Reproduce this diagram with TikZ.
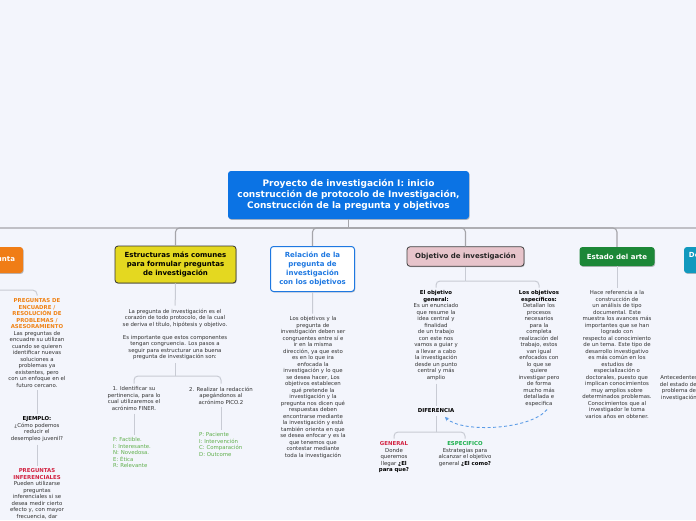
\documentclass[tikz,border=0pt]{standalone}
\usepackage{fontspec}
\setmainfont{DejaVu Sans}
\usetikzlibrary{arrows.meta,shadows}
\definecolor{bgc}{RGB}{243,245,252}
\definecolor{rootc}{RGB}{11,115,228}
\definecolor{orangec}{RGB}{240,125,22}
\definecolor{yellowc}{RGB}{228,216,32}
\definecolor{pinkc}{RGB}{231,196,203}
\definecolor{estc}{RGB}{28,135,55}
\definecolor{tealc}{RGB}{17,153,190}
\definecolor{relblue}{RGB}{30,120,225}
\definecolor{txtc}{RGB}{50,50,50}
\definecolor{orangetxt}{RGB}{240,130,20}
\definecolor{crim}{RGB}{210,35,65}
\definecolor{espg}{RGB}{25,175,75}
\definecolor{listg}{RGB}{95,175,75}
\definecolor{busc}{RGB}{165,165,170}
\definecolor{subc}{RGB}{200,203,212}
\definecolor{arrowc}{RGB}{90,155,230}
\newcommand\hO[1]{\textcolor{orangetxt}{\bfseries #1}}
\newcommand\hR[1]{\textcolor{crim}{\bfseries #1}}
\newcommand\hG[1]{\textcolor{espg}{\bfseries #1}}
\begin{document}
\begin{tikzpicture}[x=1pt,y=-1pt,
  box/.style={rounded corners=3pt, inner sep=0pt, align=center,
    font=\fontsize{7}{9}\selectfont\bfseries,
    drop shadow={shadow xshift=0.7pt,shadow yshift=-0.9pt,opacity=0.25,fill=black}},
  txt/.style={inner sep=3pt, align=center, font=\fontsize{5.4}{6.5}\selectfont, text=txtc, anchor=north},
  ltxt/.style={inner sep=3pt, align=left, font=\fontsize{5.4}{6.5}\selectfont, text=listg, anchor=north west},
  bus/.style={draw=busc, line width=1.1pt, rounded corners=4pt},
  sub/.style={draw=subc, line width=1pt, rounded corners=4pt},
  dasharrow/.style={draw=arrowc, line width=0.9pt, dash pattern=on 3pt off 2.5pt, -{Stealth[length=4pt,width=4pt]}}
]
\useasboundingbox (0,0) rectangle (696,520);
\clip (0,0) rectangle (696,520);
\fill[bgc] (0,0) rectangle (696,520);

% main nodes
\node[box, fill=rootc, text=white, minimum width=241pt, minimum height=48pt,
  font=\fontsize{9}{11}\selectfont\bfseries] (root) at (348.5,195)
  {Proyecto de investigación I: inicio\\construcción de protocolo de Investigación,\\Construcción de la pregunta y objetivos};
\node[box, fill=orangec, text=white, minimum width=88pt, minimum height=26pt] (orange) at (-21,260) {Tipos de pregunta};
\node[box, fill=yellowc, draw=black!80, line width=0.8pt, text=black, minimum width=121pt, minimum height=37pt] (yellow) at (175.5,264.5)
  {Estructuras más comunes\\para formular preguntas\\de investigación};
\node[box, fill=white, draw=relblue, line width=1pt, text=relblue, minimum width=84pt, minimum height=45pt] (rel) at (312.5,269)
  {Relación de la\\pregunta de\\investigación\\con los objetivos};
\node[box, fill=pinkc, draw=black!75, line width=0.8pt, text=black!85, minimum width=117pt, minimum height=19.5pt] (obj) at (465.5,256.5)
  {Objetivo de investigación};
\node[box, fill=estc, text=white, minimum width=75pt, minimum height=19pt] (est) at (617,256.5) {Estado del arte};
\node[box, fill=tealc, text=white, minimum width=74pt, minimum height=26pt] (dnode) at (721,260) {Delimitación del\\problema};

% bus
\coordinate (rb) at (348.5,228);
\draw[bus] (root) -- (rb);
\foreach \c in {orange,yellow,rel,obj,est,dnode} \draw[bus] (rb) -| (\c.north);

% left column
\node[txt] (l1) at (37,295.5) {\hO{PREGUNTAS DE}\\\hO{ENCUADRE /}\\\hO{RESOLUCIÓN DE}\\\hO{PROBLEMAS /}\\\hO{ASESORAMIENTO}\\Las preguntas de\\encuadre su utilizan\\cuando se quieren\\identificar nuevas\\soluciones a\\problemas ya\\existentes, pero\\con un enfoque en el\\futuro cercano.};
\node[txt] (l2) at (37,413.5) {\textbf{\color{black}EJEMPLO:}\\¿Cómo podemos\\reducir el\\desempleo juvenil?};
\node[txt] (l3) at (37,465.5) {\hR{PREGUNTAS}\\\hR{INFERENCIALES}\\Pueden utilizarse\\preguntas\\inferenciales si se\\desea medir cierto\\efecto y, con mayor\\frecuencia, dar};
\draw[sub] (orange.south) -- ++(0,17) -| (l1.north);
\draw[sub] (l1) -- (l2);
\draw[sub] (l2) -- (l3);

% yellow subtree
\node[txt] (y1) at (175,305.5) {La pregunta de investigación es el\\corazón de todo protocolo, de la cual\\se deriva el título, hipótesis y objetivo.\\[6.5pt]Es importante que estos componentes\\tengan congruencia. Los pasos a\\seguir para estructurar una buena\\pregunta de investigación son:};
\node[txt] (ya) at (134,383.5) {1. Identificar su\\pertinencia, para lo\\cual utilizaremos el\\acrónimo FINER.};
\node[txt] (yb) at (221,383.5) {2. Realizar la redacción\\apegándonos al\\acrónimo PICO.2};
\node[ltxt] (yag) at (110,434.5) {F: Factible.\\I: Interesante.\\N: Novedosa.\\E: Ética\\R: Relevante};
\node[ltxt] (ybg) at (196,429.5) {P: Paciente\\I: Intervención\\C: Comparación\\D: Outcome};
\draw[sub] (yellow) -- (y1);
\coordinate (ys) at (175,376);
\draw[sub] (y1) -- (ys);
\draw[sub] (ys) -| (ya.north);
\draw[sub] (ys) -| (yb.north);
\draw[sub] (ya.south) -- (ya.south |- yag.north);
\draw[sub] (yb.south) -- (yb.south |- ybg.north);

% relacion
\node[txt] (r1) at (313,313.5) {Los objetivos y la\\pregunta de\\investigación deben ser\\congruentes entre sí e\\ir en la misma\\dirección, ya que esto\\es en lo que ira\\enfocada la\\investigación y lo que\\se desea hacer, Los\\objetivos establecen\\qué pretende la\\investigación y la\\pregunta nos dicen qué\\respuestas deben\\encontrarse mediante\\la investigación y está\\también orienta en que\\se desea enfocar y es la\\que tenemos que\\contestar mediante\\toda la investigación};
\draw[sub] (rel) -- (r1);

% objetivo subtree
\node[txt] (og) at (436,287.5) {\textbf{\color{black}El objetivo}\\\textbf{\color{black}general:}\\Es un enunciado\\que resume la\\idea central y\\finalidad\\de un trabajo\\con este nos\\vamos a guiar y\\a llevar a cabo\\la investigación\\desde un punto\\central y más\\amplio};
\node[txt] (oe) at (539,287.5) {\textbf{\color{black}Los objetivos}\\\textbf{\color{black}específicos:}\\Detallan los\\procesos\\necesarios\\para la\\completa\\realización del\\trabajo, estos\\van igual\\enfocados con\\lo que se\\quiere\\investigar pero\\de forma\\mucho más\\detallada e\\especifica};
\coordinate (os) at (465.5,281);
\draw[sub] (obj) -- (os);
\draw[sub] (os) -| (og.north);
\draw[sub] (os) -| (oe.north);
\node[txt, text=black] (dif) at (436,405.5) {\textbf{DIFERENCIA}};
\draw[sub] (og) -- (dif);
\node[txt] (gen) at (394,438.5) {\hR{GENERAL}\\Donde\\queremos\\llegar \textbf{\color{black}¿El}\\\textbf{\color{black}para que?}};
\node[txt] (esp) at (465,438.5) {\hG{ESPECIFICO}\\Estrategias para\\alcanzar el objetivo\\general \textbf{\color{black}¿El como?}};
\coordinate (ds) at (436,432);
\draw[sub] (dif) -- (ds);
\draw[sub] (ds) -| (gen.north);
\draw[sub] (ds) -| (esp.north);
\draw[dasharrow] ([xshift=8pt]oe.south) .. controls (530,430) and (462,433) .. ([xshift=9pt,yshift=-1pt]dif.south);

% estado
\node[txt] (e1) at (617,287.5) {Hace referencia a la\\construcción de\\un análisis de tipo\\documental. Este\\muestra los avances más\\importantes que se han\\logrado con\\respecto al conocimiento\\de un tema. Este tipo de\\desarrollo investigativo\\es más común en los\\estudios de\\especialización o\\doctorales, puesto que\\implican conocimientos\\muy amplios sobre\\determinados problemas.\\Conocimientos que al\\investigador le toma\\varios años en obtener.};
\draw[sub] (est) -- (e1);

% right edge
\node[txt] (d1) at (679,372.5) {Antecedentes\\del estado del\\problema de\\investigación};
\end{tikzpicture}
\end{document}
